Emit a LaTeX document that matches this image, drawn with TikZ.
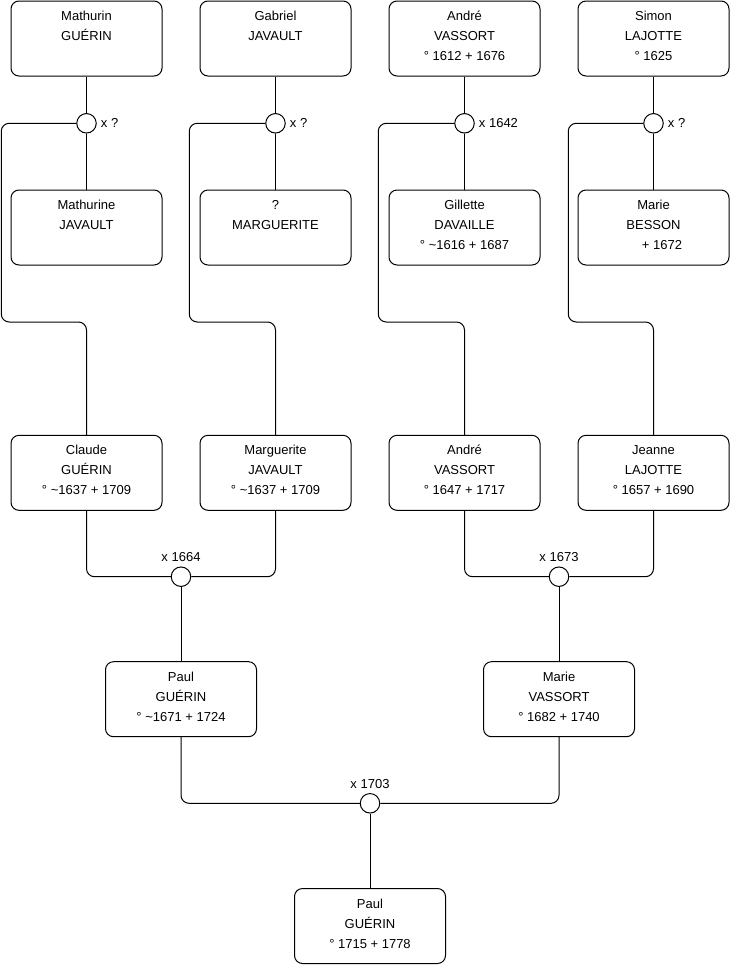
\documentclass[tikz,border=0pt]{standalone}
\usepackage{fontspec}
\setmainfont{Liberation Sans}
\newcommand{\who}[3]{\strut#1\\\strut#2\\\strut#3}
\begin{document}
\begin{tikzpicture}[x=1pt,y=-1pt,
  person/.style={draw,line width=1pt,rounded corners=8pt,minimum width=151pt,minimum height=75pt,inner sep=0pt,align=center,text depth=10pt,font=\fontsize{13}{20}\selectfont},
  wed/.style={draw,circle,fill=white,line width=1pt,minimum size=19.5pt,inner sep=0pt},
  year/.style={inner sep=0pt,font=\fontsize{13}{16}\selectfont},
  link/.style={line width=1pt,rounded corners=8pt}]
\path[use as bounding box] (0,0) rectangle (740,975);
\coordinate (turn) at (0,322);
% great-grandparents
\node[person] (mathurin) at (86.5,38.5) {\who{Mathurin}{GUÉRIN}{}};
\node[person] (gabriel) at (275.5,38.5) {\who{Gabriel}{JAVAULT}{}};
\node[person] (andreA) at (464.5,38.5) {\who{André}{VASSORT}{° 1612 + 1676}};
\node[person] (simon) at (653.5,38.5) {\who{Simon}{LAJOTTE}{° 1625}};
\node[person] (mathurine) at (86.5,227.5) {\who{Mathurine}{JAVAULT}{}};
\node[person] (margueriteA) at (275.5,227.5) {\who{?}{MARGUERITE}{}};
\node[person] (gillette) at (464.5,227.5) {\who{Gillette}{DAVAILLE}{° \textasciitilde1616 + 1687}};
\node[person] (besson) at (653.5,227.5) {\who{Marie}{BESSON}{\hspace{17pt}+ 1672}};
\node[wed] (wA) at (86.5,123.3) {};
\node[wed] (wB) at (275.5,123.3) {};
\node[wed] (wC) at (464.5,123.3) {};
\node[wed] (wD) at (653.5,123.3) {};
\node[year,anchor=west] (yA) at ([xshift=4pt]wA.east) {x ?};
\node[year,anchor=west] (yB) at ([xshift=4pt]wB.east) {x ?};
\node[year,anchor=west] (yC) at ([xshift=4pt]wC.east) {x 1642};
\node[year,anchor=west] (yD) at ([xshift=4pt]wD.east) {x ?};
% grandparents
\node[person] (claude) at (86.5,472.8) {\who{Claude}{GUÉRIN}{° \textasciitilde1637 + 1709}};
\node[person] (margueriteB) at (275.5,472.8) {\who{Marguerite}{JAVAULT}{° \textasciitilde1637 + 1709}};
\node[person] (andreB) at (464.5,472.8) {\who{André}{VASSORT}{° 1647 + 1717}};
\node[person] (jeanne) at (653.5,472.8) {\who{Jeanne}{LAJOTTE}{° 1657 + 1690}};
\node[wed] (wE) at (181,576.7) {};
\node[wed] (wF) at (559,576.7) {};
\node[year,anchor=south] (yE) at ([yshift=4.5pt]wE.north) {x 1664};
\node[year,anchor=south] (yF) at ([yshift=4.5pt]wF.north) {x 1673};
% parents
\node[person] (paulA) at (181,699.2) {\who{Paul}{GUÉRIN}{° \textasciitilde1671 + 1724}};
\node[person] (marie) at (559,699.2) {\who{Marie}{VASSORT}{° 1682 + 1740}};
\node[wed] (wG) at (370,803.3) {};
\node[year,anchor=south] (yG) at ([yshift=4.5pt]wG.north) {x 1703};
\node[person] (paulB) at (370,926) {\who{Paul}{GUÉRIN}{° 1715 + 1778}};
% lines
\draw[link] (mathurin) -- (wA) -- (mathurine);
\draw[link] (gabriel) -- (wB) -- (margueriteA);
\draw[link] (andreA) -- (wC) -- (gillette);
\draw[link] (simon) -- (wD) -- (besson);
\draw[link] (wA.west) -- ++(-75,0) |- (claude.north |- turn) -- (claude.north);
\draw[link] (wB.west) -- ++(-76,0) |- (margueriteB.north |- turn) -- (margueriteB.north);
\draw[link] (wC.west) -- ++(-76,0) |- (andreB.north |- turn) -- (andreB.north);
\draw[link] (wD.west) -- ++(-75,0) |- (jeanne.north |- turn) -- (jeanne.north);
\draw[link] (claude.south) |- (wE.west);
\draw[link] (margueriteB.south) |- (wE.east);
\draw[link] (andreB.south) |- (wF.west);
\draw[link] (jeanne.south) |- (wF.east);
\draw[link] (wE) -- (paulA);
\draw[link] (wF) -- (marie);
\draw[link] (paulA.south) |- (wG.west);
\draw[link] (marie.south) |- (wG.east);
\draw[link] (wG) -- (paulB);
\end{tikzpicture}
\end{document}
